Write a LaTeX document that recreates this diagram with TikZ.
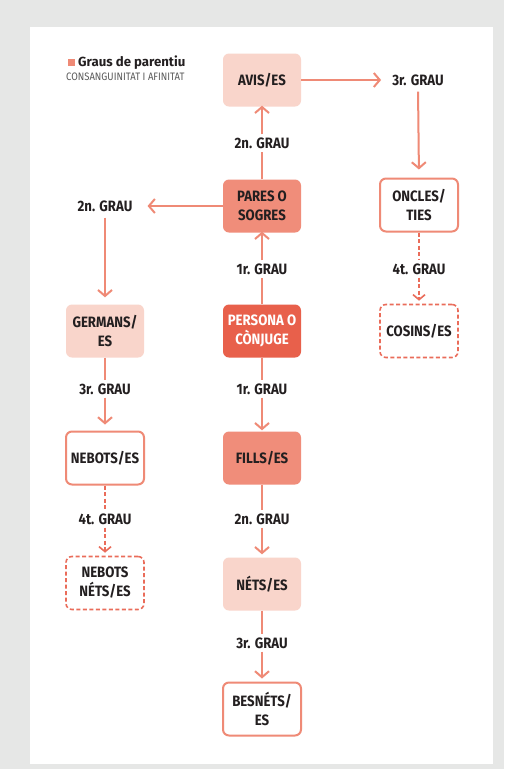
\documentclass[tikz,border=0pt]{standalone}
\usepackage{fontspec}
\setmainfont{Fira Sans}
\newfontfamily\condfont[FakeStretch=0.88]{Fira Sans}
\usetikzlibrary{arrows.meta}
\definecolor{bggray}{HTML}{E6E7E6}
\definecolor{lightfill}{HTML}{F9D5CB}
\definecolor{midfill}{HTML}{F08D7A}
\definecolor{darkfill}{HTML}{E8604B}
\definecolor{salmon}{HTML}{EF8A76}
\definecolor{dashred}{HTML}{EA6C5A}
\definecolor{txt}{HTML}{231F20}
\definecolor{subgray}{HTML}{5A5A5A}
\tikzset{
  box/.style={rectangle, rounded corners=6pt, minimum width=78pt, minimum height=53pt,
    align=center, font=\condfont\fontsize{15}{19}\selectfont\bfseries, text=txt, inner sep=2pt},
  lightbox/.style={box, fill=lightfill},
  midbox/.style={box, fill=midfill},
  darkbox/.style={box, fill=darkfill, text=white},
  openbox/.style={box, fill=white, draw=salmon, line width=2pt},
  dashbox/.style={box, fill=white, draw=dashred, line width=1.6pt, dash pattern=on 4pt off 2.5pt},
  grau/.style={font=\condfont\fontsize{15}{18}\selectfont\bfseries, text=txt, fill=white, inner sep=3pt},
  conn/.style={draw=salmon, line width=2pt, -{Straight Barb[length=6pt,width=14pt,line width=2pt]}},
  plain/.style={draw=salmon, line width=2pt},
  dconn/.style={draw=dashred, line width=1.6pt, dash pattern=on 4pt off 2.5pt, -{Straight Barb[length=5pt,width=12pt,line width=1.6pt]}},
  dplain/.style={draw=dashred, line width=1.6pt, dash pattern=on 4pt off 2.5pt},
}
\begin{document}
\begin{tikzpicture}[x=1pt,y=-1pt]
\useasboundingbox (0,0) rectangle (504,769);
\fill[bggray] (0,0) rectangle (504,769);
\fill[white] (30,27) rectangle (493,764);

% legend
\node[fill=salmon, minimum size=7pt, inner sep=0pt] (sq) at (71,62) {};
\node[anchor=west, font=\fontsize{13.2}{15}\selectfont\bfseries, text=txt, inner sep=0pt] (ttl) at (78,63) {Graus de parentiu};
\node[anchor=west, font=\condfont\fontsize{10.8}{12}\selectfont, text=subgray, inner sep=0pt] (sub) at (66,77) {CONSANGUINITAT I AFINITAT};

% boxes
\node[lightbox] (avis) at (262,80) {AVIS/ES};
\node[midbox] (pares) at (262,206) {PARES O\\SOGRES};
\node[darkbox] (persona) at (262,331) {PERSONA O\\CÒNJUGE};
\node[midbox] (fills) at (262,458) {FILLS/ES};
\node[lightbox] (nets) at (262,584) {NÉTS/ES};
\node[openbox] (besnets) at (262,709) {BESNÉTS/\\ES};
\node[lightbox] (germans) at (105,331) {GERMANS/\\ES};
\node[openbox] (nebots) at (105,458) {NEBOTS/ES};
\node[dashbox] (nebnets) at (105,583) {NEBOTS\\NÉTS/ES};
\node[openbox] (oncles) at (419,205) {ONCLES/\\TIES};
\node[dashbox] (cosins) at (419,331) {COSINS/ES};

% grau labels
\node[grau] (g3top) at (418,80) {3r. GRAU};
\node[grau] (g2up) at (262,143) {2n. GRAU};
\node[grau] (g2left) at (105,206) {2n. GRAU};
\node[grau] (g1up) at (262,269) {1r. GRAU};
\node[grau] (g4right) at (419,269) {4t. GRAU};
\node[grau] (g3left) at (105,389) {3r. GRAU};
\node[grau] (g1down) at (262,389) {1r. GRAU};
\node[grau] (g4left) at (105,519) {4t. GRAU};
\node[grau] (g2down) at (262,519) {2n. GRAU};
\node[grau] (g3down) at (262,643) {3r. GRAU};

% connectors
\draw[conn, shorten >=8pt] (avis.east) -- (g3top.west);
\draw[conn, shorten <=3pt, shorten >=8pt] (g3top.south) -- (oncles.north);
\draw[plain] (pares.north) -- (g2up.south);
\draw[conn, shorten >=-1pt] (g2up.north) -- (avis.south);
\draw[conn, shorten >=12pt] (pares.west) -- (g2left.east);
\draw[conn, shorten <=3pt, shorten >=7pt] (g2left.south) -- (germans.north);
\draw[plain] (persona.north) -- (g1up.south);
\draw[conn, shorten >=-1pt] (g1up.north) -- (pares.south);
\draw[plain] (persona.south) -- (g1down.north);
\draw[conn, shorten >=1pt] (g1down.south) -- (fills.north);
\draw[plain] (fills.south) -- (g2down.north);
\draw[conn, shorten >=3pt] (g2down.south) -- (nets.north);
\draw[plain] (nets.south) -- (g3down.north);
\draw[conn, shorten >=3pt] (g3down.south) -- (besnets.north);
\draw[plain] (germans.south) -- (g3left.north);
\draw[conn, shorten >=6pt] (g3left.south) -- (nebots.north);
\draw[dplain] (nebots.south) -- (g4left.north);
\draw[dconn, shorten >=3pt] (g4left.south) -- (nebnets.north);
\draw[dplain] (oncles.south) -- (g4right.north);
\draw[dconn, shorten >=3pt] (g4right.south) -- (cosins.north);
\end{tikzpicture}
\end{document}
